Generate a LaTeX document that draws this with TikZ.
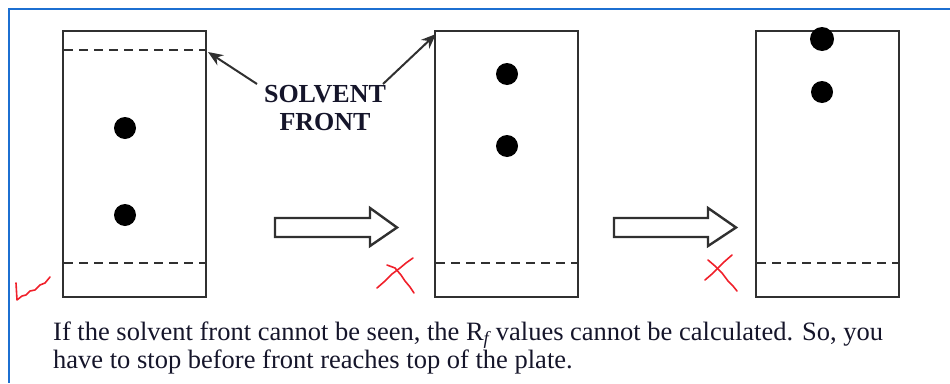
\documentclass[tikz,border=0pt]{standalone}
\usepackage{fontspec}
\setmainfont{Liberation Serif}
\usetikzlibrary{arrows.meta}
\definecolor{plategray}{HTML}{303030}
\definecolor{frameblue}{HTML}{1C6FD1}
\definecolor{inkred}{HTML}{F0202A}
\definecolor{textink}{HTML}{15152A}
\begin{document}
\begin{tikzpicture}[x=1pt,y=-1pt,
  plate/.style={draw=plategray, line width=2.4pt, minimum width=143pt, minimum height=266pt, inner sep=0pt},
  front/.style={draw=plategray, line width=2.2pt, dash pattern=on 9pt off 6pt},
  spot/.style={circle, fill=black, minimum size=22pt, inner sep=0pt},
  blockarrow/.style={draw=plategray, line width=2.4pt, fill=white, line join=miter},
  pointer/.style={draw=plategray, line width=2pt, -{Stealth[length=15pt,width=12pt]}},
  redmark/.style={draw=inkred, line width=1.6pt, line cap=round, line join=round},
  label/.style={font=\fontsize{26}{28}\selectfont\bfseries, text=textink, align=center, inner sep=0pt},
  caption/.style={font=\fontsize{26.5}{28}\selectfont, text=textink, inner sep=0pt, anchor=base west},
]
\useasboundingbox (0,0) rectangle (950,383);
% blue frame
\draw[frameblue, line width=2.2pt] (950,9) -- (9,9) -- (9,383);

% plates
\node[plate] (p1) at (134.5,164) {};
\node[plate] (p2) at (506.5,164) {};
\node[plate] (p3) at (827.5,164) {};

% solvent fronts and baselines
\draw[front] (64,50) -- (205,50);
\draw[front] (64,263) -- (205,263);
\draw[front] (436,263) -- (577,263);
\draw[front] (757,263) -- (898,263);

% spots
\node[spot] (s11) at (125,128) {};
\node[spot] (s12) at (125,215) {};
\node[spot] (s21) at (507,74) {};
\node[spot] (s22) at (507,146) {};
\node[spot, minimum width=21pt, minimum height=24pt] (s31) at (822,39) {};
\node[spot] (s32) at (822,92) {};

% block arrows
\draw[blockarrow] (275,218) -- (370,218) -- (370,208) -- (397,227.5) -- (370,246) -- (370,237) -- (275,237) -- cycle;
\draw[blockarrow] (614,218) -- (708,218) -- (708,208) -- (736,227.5) -- (708,246) -- (708,237) -- (614,237) -- cycle;

% label
\node[label] (sf) at (325,108) {SOLVENT\\FRONT};
\coordinate (sfl) at (257,84);
\coordinate (sfr) at (383,84);
\coordinate (f1) at (208,52);
\coordinate (f2) at (436,34);
\draw[pointer] (sfl) -- (f1);
\draw[pointer] (sfr) -- (f2);

% red marks
\draw[redmark] (16,283) -- (17,300) -- (22,296) -- (26,295) -- (30,291) -- (35,290) -- (40,285) -- (45,283) -- (50,277);
\draw[redmark] (377,288) -- (385,281) -- (392,274) -- (400,268) -- (406,263) -- (413,258);
\draw[redmark] (387,265) -- (395,268) -- (401,275) -- (405,281) -- (410,287) -- (414,293);
\draw[redmark] (705,280) -- (712,274) -- (718,268) -- (724,262) -- (732,255);
\draw[redmark] (708,260) -- (715,266) -- (722,273) -- (728,281) -- (733,286) -- (737,291);

% caption
\node[caption] (t1) at (53,340) {If the solvent front cannot be seen, the R\textsubscript{\textit{f}}\,values cannot be calculated. So, you};
\node[caption] (t2) at (53,368) {have to stop before front reaches top of the plate.};
\end{tikzpicture}
\end{document}
